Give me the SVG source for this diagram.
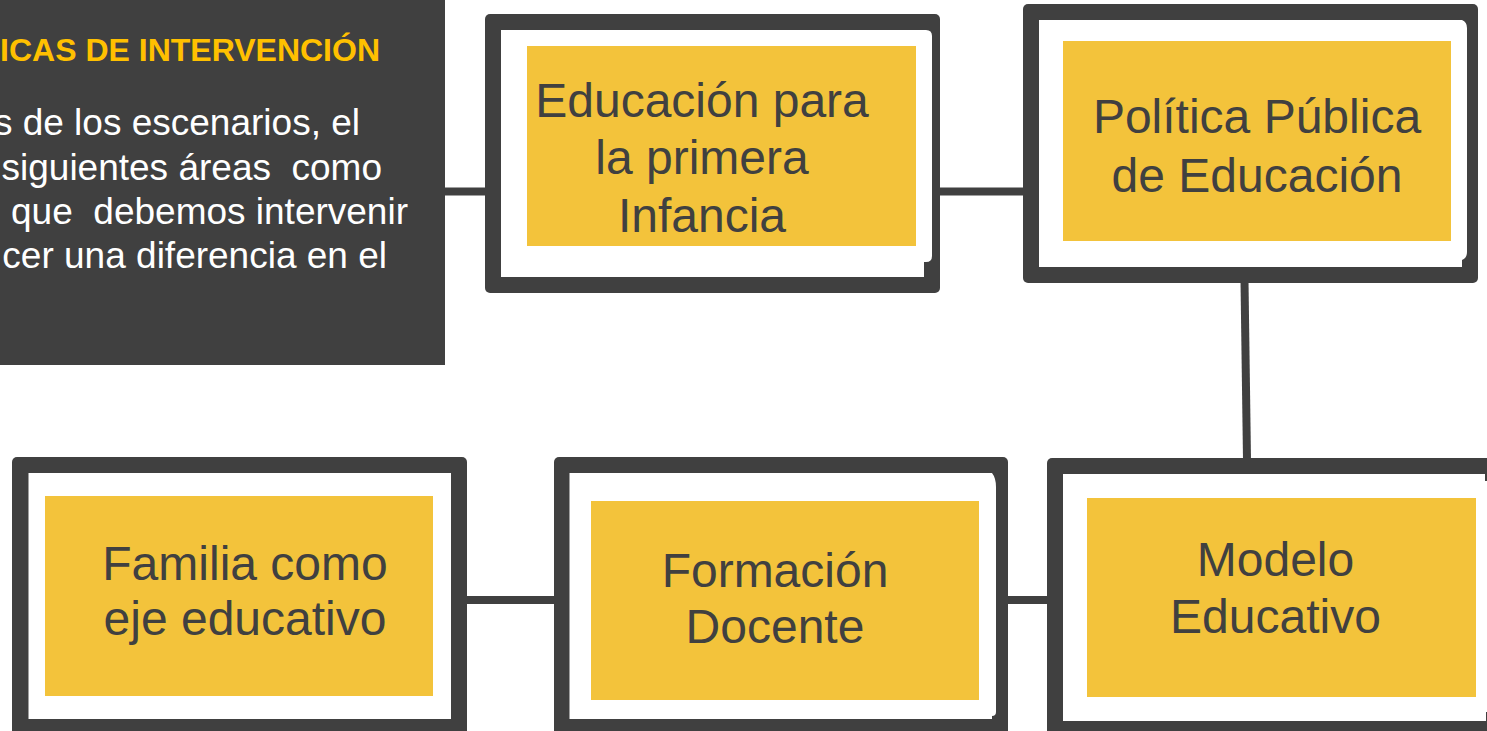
<svg xmlns="http://www.w3.org/2000/svg" width="1487" height="731" viewBox="0 0 1487 731">
<style>
.frame{fill:#404040}
.inner{fill:#ffffff}
.card{fill:#F3C33B}
.lbl{font-family:"Liberation Sans",Arial,sans-serif;font-size:48px;fill:#404040;text-anchor:middle}
.conn{stroke:#404040;stroke-width:8;fill:none}
.title{font-family:"Liberation Sans",Arial,sans-serif;font-size:32px;font-weight:bold;fill:#FFC000;text-anchor:end}
.body{font-family:"Liberation Sans",Arial,sans-serif;font-size:37px;fill:#ffffff;text-anchor:end;white-space:pre}
</style>
<rect width="1487" height="731" fill="#ffffff"/>
<g id="intro">
<rect x="0" y="0" width="445" height="365" fill="#404040"/>
<text class="title" x="380" y="61">ICAS DE INTERVENCIÓN</text>
<text class="body" x="360" y="135">s de los escenarios, el</text>
<text class="body" x="382" y="180" xml:space="preserve">siguientes áreas  como</text>
<text class="body" x="408" y="224" xml:space="preserve">que  debemos intervenir</text>
<text class="body" x="387" y="268">cer una diferencia en el</text>
</g>
<g id="connectors">
<line class="conn" x1="445" y1="191.5" x2="487" y2="191.5"/>
<line class="conn" x1="938" y1="191.5" x2="1025" y2="191.5"/>
<line class="conn" x1="1244.5" y1="281" x2="1247" y2="460"/>
<line class="conn" x1="465" y1="600" x2="556" y2="600"/>
<line class="conn" x1="1006" y1="600" x2="1049" y2="600"/>
</g>
<g id="node-educacion-infancia">
<rect class="frame" x="485" y="14" width="455" height="279" rx="5"/>
<path class="inner" d="M501,30 H926 Q932,30 932,36 V256 Q932,262 926,262 H924 V277 H501 Z"/>
<rect class="card" x="527" y="46" width="389" height="200"/>
<text class="lbl" x="702" y="117">Educación para</text>
<text class="lbl" x="702" y="174">la primera</text>
<text class="lbl" x="702" y="232">Infancia</text>
</g>
<g id="node-politica">
<rect class="frame" x="1023" y="4" width="455" height="279" rx="5"/>
<path class="inner" d="M1039,20 H1462 Q1467,22 1467,28 V252 Q1467,258 1462,260 V267 H1039 Z"/>
<rect class="card" x="1063" y="41" width="388" height="200"/>
<text class="lbl" x="1257" y="133">Política Pública</text>
<text class="lbl" x="1257" y="192">de Educación</text>
</g>
<g id="node-familia">
<rect class="frame" x="12" y="457" width="455" height="279" rx="5"/>
<rect class="inner" x="28.5" y="473" width="422.5" height="246"/>
<rect class="card" x="45" y="496" width="388" height="200"/>
<text class="lbl" x="245" y="579.5">Familia como</text>
<text class="lbl" x="245" y="635">eje educativo</text>
</g>
<g id="node-formacion">
<rect class="frame" x="554" y="457" width="454" height="279" rx="5"/>
<path class="inner" d="M569.5,473 H992 Q996,478 996,487 V712 Q996,716 992,716 V719 H569.5 Z"/>
<rect class="card" x="591" y="501" width="388" height="199"/>
<text class="lbl" x="775" y="587">Formación</text>
<text class="lbl" x="775" y="643">Docente</text>
</g>
<g id="node-modelo">
<rect class="frame" x="1047" y="458" width="455" height="279" rx="5"/>
<path class="inner" d="M1063,474 H1485 V481 H1490 V712 H1486 V721 H1063 Z"/>
<rect class="card" x="1087" y="498" width="389" height="199"/>
<text class="lbl" x="1275.5" y="576">Modelo</text>
<text class="lbl" x="1275.5" y="633">Educativo</text>
</g>
</svg>
